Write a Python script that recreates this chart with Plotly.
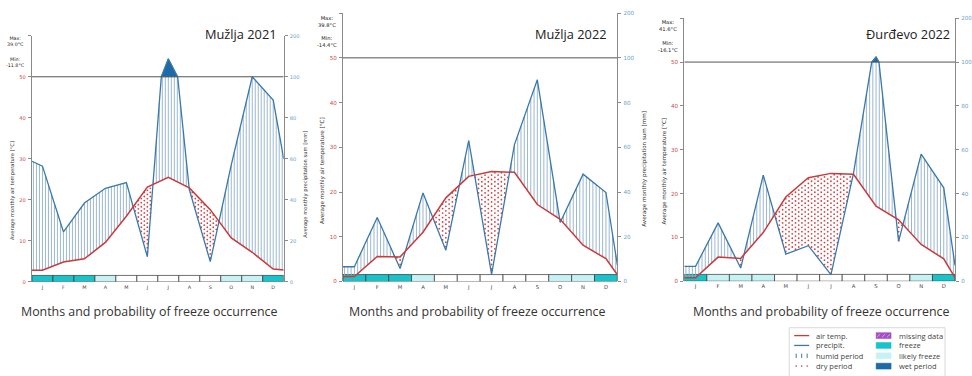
import numpy as np
import plotly.graph_objects as go

W, H = 972, 376

MONTHS = ["J", "F", "M", "A", "M", "J", "J", "A", "S", "O", "N", "D"]

# Mužlja 2021: monthly mean air temperature [°C] and precipitation sum [mm]
muzlja21_temp = [2.8, 4.8, 5.6, 9.6, 16.0, 23.1, 25.5, 22.9, 17.6, 10.7, 7.2, 3.1]
muzlja21_temp_ends = [2.8, 2.9]
muzlja21_prec = [56.4, 24.4, 38.4, 45.6, 48.4, 12.2, 144.0, 45.0, 9.8, 57.0, 100.0, 88.6]
muzlja21_prec_ends = [58.8, 60.0]
muzlja21_frost = [2, 2, 2, 1, 0, 0, 0, 0, 0, 1, 1, 2]
muzlja21_extremes = ["39.0", "-11.8"]

# Mužlja 2022
muzlja22_temp = [1.1, 5.6, 5.5, 11.0, 18.7, 23.5, 24.6, 24.4, 17.2, 13.9, 8.1, 5.1]
muzlja22_temp_ends = [1.1, 1.5]
muzlja22_prec = [6.6, 28.6, 5.8, 39.6, 14.0, 63.0, 3.2, 61.2, 90.2, 26.4, 48.0, 39.8]
muzlja22_prec_ends = [6.6, 7.4]
muzlja22_frost = [2, 2, 2, 1, 0, 0, 0, 0, 0, 1, 1, 2]
muzlja22_extremes = ["39.8", "-14.4"]

# Đurđevo 2022
durdevo22_temp = [0.8, 5.5, 5.2, 11.1, 19.2, 23.6, 24.6, 24.4, 17.1, 14.0, 8.4, 5.1]
durdevo22_temp_ends = [0.8, 0.8]
durdevo22_prec = [6.8, 26.6, 6.0, 48.4, 12.4, 16.2, 3.0, 49.2, 112.0, 18.2, 58.0, 42.6]
durdevo22_prec_ends = [6.8, 7.2]
durdevo22_frost = [2, 1, 1, 1, 0, 0, 0, 0, 0, 0, 1, 2]
durdevo22_extremes = ["41.6", "-16.1"]

# colours
C_TEMP = "#c93b3b"
C_PREC = "#3a79aa"
C_HATCH = "#8eafcd"
C_DRY = "#d04545"
C_WET = "#1e69a8"
C_FREEZE = "#16c4cb"
C_LIKELY = "#c6f2f5"
C_AXIS = "#8a8a8a"
C_TICK_T = "#cc4b4b"
C_TICK_P = "#6aa3c8"
FROST_COLORS = ["#ffffff", C_LIKELY, C_FREEZE]

SMALL = "DejaVu Sans"
BIG = "Open Sans"

panels = [
    dict(title="Mužlja 2021", temp=muzlja21_temp, temp_ends=muzlja21_temp_ends,
         prec=muzlja21_prec, prec_ends=muzlja21_prec_ends, frost=muzlja21_frost,
         ext=muzlja21_extremes,
         left=32, right=284, top=33.3, bottom=283.3, fs=5.2,
         title_xy=(241, 32), cap_x=150, ext_x=16, ext_y=(39.5, 60.5),
         ltitle=(13, 190), rtitle=(305, 184)),
    dict(title="Mužlja 2022", temp=muzlja22_temp, temp_ends=muzlja22_temp_ends,
         prec=muzlja22_prec, prec_ends=muzlja22_prec_ends, frost=muzlja22_frost,
         ext=muzlja22_extremes,
         left=343.3, right=618, top=10.3, bottom=283, fs=5.6,
         title_xy=(572, 31), cap_x=478, ext_x=327, ext_y=(19, 39.5),
         ltitle=(323, 170), rtitle=(645, 168)),
    dict(title="Đurđevo 2022", temp=durdevo22_temp, temp_ends=durdevo22_temp_ends,
         prec=durdevo22_prec, prec_ends=durdevo22_prec_ends, frost=durdevo22_frost,
         ext=durdevo22_extremes,
         left=685, right=956, top=15.5, bottom=282.7, fs=5.6,
         title_xy=(909, 31), cap_x=822, ext_x=669, ext_y=(23, 44),
         ltitle=(665, 171), rtitle=None),
]


def prec_scale(p):
    """Walter-Lieth precipitation scale: 2 mm per °C up to 100 mm, 20 mm per °C above."""
    p = np.asarray(p, dtype=float)
    return np.where(p <= 100, p / 2.0, 50.0 + (p - 100.0) / 10.0)


def prec_polyline(xs, pmm):
    """Precipitation polyline in mm, with a vertex added wherever it crosses 100 mm."""
    ox, oy = [xs[0]], [pmm[0]]
    for i in range(len(xs) - 1):
        a, b = pmm[i], pmm[i + 1]
        if (a - 100) * (b - 100) < 0:
            f = (100 - a) / (b - a)
            ox.append(xs[i] + f * (xs[i + 1] - xs[i]))
            oy.append(100.0)
        ox.append(xs[i + 1])
        oy.append(b)
    return np.array(ox), prec_scale(oy)


def px(x):
    return x / W


def py(y):
    return 1 - y / H


def note(x, y, text, size, color="#333", family=SMALL, xanchor="center", angle=0):
    return dict(x=px(x), y=py(y), xref="paper", yref="paper", text=text,
                showarrow=False, xanchor=xanchor, yanchor="middle", textangle=angle,
                font=dict(family=family, size=size, color=color))


fig = go.Figure()
shapes = []
annotations = []
layout_axes = {}

for k, pn in enumerate(panels):
    n = k + 1
    xa = "x" if n == 1 else f"x{n}"
    ya = "y" if n == 1 else f"y{n}"
    yr = f"y{n + 3}"

    X = np.array([0.0] + [i + 0.5 for i in range(12)] + [12.0])
    T = np.array([pn["temp_ends"][0]] + list(pn["temp"]) + [pn["temp_ends"][1]])
    PX, PY = prec_polyline(X, [pn["prec_ends"][0]] + list(pn["prec"]) + [pn["prec_ends"][1]])

    # humid hatching and dry stippling
    cols = np.arange(1 / 14, 12, 1 / 7)
    hx, hy, dx, dy = [], [], [], []
    for j, c in enumerate(cols):
        t = np.interp(c, X, T)
        p = np.interp(c, PX, PY)
        if p > t:
            hx += [c, c, None]
            hy += [t, min(p, 50.0), None]
        elif t > p:
            rows = np.arange(0.5 * (j % 2) + 0.3, 60, 1.0)
            for r in rows[(rows > p + 0.2) & (rows < t - 0.2)]:
                dx.append(c)
                dy.append(r)

    fig.add_trace(go.Scatter(x=hx, y=hy, mode="lines", xaxis=xa, yaxis=ya,
                             line=dict(color=C_HATCH, width=0.9), hoverinfo="skip",
                             showlegend=False))
    fig.add_trace(go.Scatter(x=dx, y=dy, mode="markers", xaxis=xa, yaxis=ya,
                             marker=dict(color=C_DRY, size=1.8), hoverinfo="skip",
                             showlegend=False))

    # wet period (precipitation above 100 mm)
    xf = np.linspace(0, 12, 4801)
    pf = np.interp(xf, PX, PY)
    above = pf > 50
    i = 0
    while i < len(xf):
        if above[i]:
            j = i
            while j + 1 < len(xf) and above[j + 1]:
                j += 1
            wx = list(xf[i:j + 1]) + [xf[j], xf[i]]
            wy = list(pf[i:j + 1]) + [50.0, 50.0]
            fig.add_trace(go.Scatter(x=wx, y=wy, mode="lines", fill="toself",
                                     fillcolor=C_WET, line=dict(color=C_WET, width=0.5),
                                     xaxis=xa, yaxis=ya, hoverinfo="skip",
                                     showlegend=False))
            i = j + 1
        else:
            i += 1

    fig.add_trace(go.Scatter(x=PX, y=PY, mode="lines", xaxis=xa, yaxis=ya,
                             line=dict(color=C_PREC, width=1.3), showlegend=False,
                             name="precipit."))
    fig.add_trace(go.Scatter(x=X, y=T, mode="lines", xaxis=xa, yaxis=ya,
                             line=dict(color=C_TEMP, width=1.5), showlegend=False,
                             name="air temp."))
    # carrier for the right-hand precipitation axis
    fig.add_trace(go.Scatter(x=[None], y=[None], xaxis=xa, yaxis=yr,
                             showlegend=False, hoverinfo="skip"))

    xdom = [px(pn["left"]), px(pn["right"])]
    ydom = [py(pn["bottom"]), py(pn["top"])]
    fs = pn["fs"]
    xkey = "xaxis" if n == 1 else f"xaxis{n}"
    ykey = "yaxis" if n == 1 else f"yaxis{n}"
    layout_axes[xkey] = dict(domain=xdom, anchor=ya, range=[0, 12], showgrid=False,
                             zeroline=False, showline=False, ticks="",
                             tickvals=[i + 0.5 for i in range(12)], ticktext=MONTHS,
                             tickfont=dict(family=SMALL, size=fs - 0.3, color="#444"),
                             ticklabelstandoff=1, fixedrange=True)
    layout_axes[ykey] = dict(domain=ydom, anchor=xa, range=[0, 60], showgrid=False,
                             zeroline=False, showline=True, linecolor=C_AXIS, linewidth=1,
                             ticks="outside", ticklen=3, tickcolor=C_AXIS,
                             tickvals=[0, 10, 20, 30, 40, 50, 60],
                             ticktext=["0", "10", "20", "30", "40", "50", ""],
                             tickfont=dict(family=SMALL, size=fs, color=C_TICK_T),
                             ticklabelstandoff=1, fixedrange=True)
    layout_axes[f"yaxis{n + 3}"] = dict(overlaying=ya, anchor=xa, side="right",
                                        range=[0, 60], showgrid=False, zeroline=False,
                                        showline=True, linecolor=C_AXIS, linewidth=1,
                                        ticks="outside", ticklen=3, tickcolor=C_AXIS,
                                        tickvals=[0, 10, 20, 30, 40, 50, 60],
                                        ticktext=["0", "20", "40", "60", "80", "100", "200"],
                                        tickfont=dict(family=SMALL, size=fs, color=C_TICK_P),
                                        ticklabelstandoff=1, fixedrange=True)

    # 100 mm / 50 °C reference line
    shapes.append(dict(type="line", xref=xa, yref=ya, x0=0, x1=12, y0=50, y1=50,
                       line=dict(color="#555", width=1)))
    # freeze probability strip
    for m, f in enumerate(pn["frost"]):
        shapes.append(dict(type="rect", xref=xa, yref=ya, x0=m, x1=m + 1, y0=0, y1=1.55,
                           fillcolor=FROST_COLORS[f], line=dict(color="#333", width=0.7),
                           layer="below"))

    # texts
    tx, ty = pn["title_xy"]
    annotations.append(note(tx, ty, pn["title"], 12.8, "#222", BIG))
    annotations.append(note(pn["cap_x"], 313, "Months and probability of freeze occurrence",
                            12.4, "#333", BIG))
    annotations.append(note(pn["ext_x"], pn["ext_y"][0], f"Max:<br>{pn['ext'][0]}°C",
                            fs - 0.4, "#222"))
    annotations.append(note(pn["ext_x"], pn["ext_y"][1], f"Min:<br>{pn['ext'][1]}°C",
                            fs - 0.4, "#222"))
    lx, ly = pn["ltitle"]
    annotations.append(note(lx, ly, "Average monthly air temperature [°C]", fs, "#333",
                            angle=-90))
    if pn["rtitle"]:
        rx, ry = pn["rtitle"]
        annotations.append(note(rx, ry, "Average monthly precipitation sum [mm]", fs, "#333",
                                angle=-90))

# legend box
LX0, LY0, LX1, LY1 = 790, 330, 946, 380
shapes.append(dict(type="rect", xref="paper", yref="paper", x0=px(LX0), x1=px(LX1),
                   y0=py(LY1), y1=py(LY0), line=dict(color="#cfcfcf", width=0.8),
                   fillcolor="white"))
rows_y = [338, 348, 358.5, 369]
left_items = ["air temp.", "precipit.", "humid period", "dry period"]
right_items = ["missing data", "freeze", "likely freeze", "wet period"]
right_fill = ["#a64fc4", C_FREEZE, C_LIKELY, C_WET]

# line swatches
for yy, col in zip(rows_y[:2], [C_TEMP, C_PREC]):
    shapes.append(dict(type="line", xref="paper", yref="paper", x0=px(795), x1=px(810),
                       y0=py(yy), y1=py(yy), line=dict(color=col, width=1.3)))
# humid ticks and dry dots
for xx in (797, 802.5, 808):
    shapes.append(dict(type="line", xref="paper", yref="paper", x0=px(xx), x1=px(xx),
                       y0=py(rows_y[2] - 2.2), y1=py(rows_y[2] + 2.2),
                       line=dict(color=C_PREC, width=1)))
    shapes.append(dict(type="circle", xref="paper", yref="paper", x0=px(xx - 0.8),
                       x1=px(xx + 0.8), y0=py(rows_y[3] + 0.8), y1=py(rows_y[3] - 0.8),
                       fillcolor=C_DRY, line=dict(width=0)))
# patch swatches
for yy, col in zip(rows_y, right_fill):
    shapes.append(dict(type="rect", xref="paper", yref="paper", x0=px(877), x1=px(892),
                       y0=py(yy + 3), y1=py(yy - 3), fillcolor=col,
                       line=dict(color=col, width=0.5)))
for xx in (879.5, 884.5, 889.5):
    shapes.append(dict(type="line", xref="paper", yref="paper", x0=px(xx - 1.5),
                       x1=px(xx + 1.5), y0=py(rows_y[0] + 1.5), y1=py(rows_y[0] - 1.5),
                       line=dict(color="#e8c8f0", width=0.7)))
for yy, txt in zip(rows_y, left_items):
    annotations.append(note(815, yy, txt, 7.5, "#444", BIG, xanchor="left"))
for yy, txt in zip(rows_y, right_items):
    annotations.append(note(898, yy, txt, 7.5, "#444", BIG, xanchor="left"))

fig.update_layout(width=W, height=H, autosize=False,
                  margin=dict(l=0, r=0, t=0, b=0, pad=0),
                  paper_bgcolor="white", plot_bgcolor="white",
                  showlegend=False, shapes=shapes, annotations=annotations,
                  **layout_axes)

fig.write_html("out.html", config=dict(displayModeBar=False))
